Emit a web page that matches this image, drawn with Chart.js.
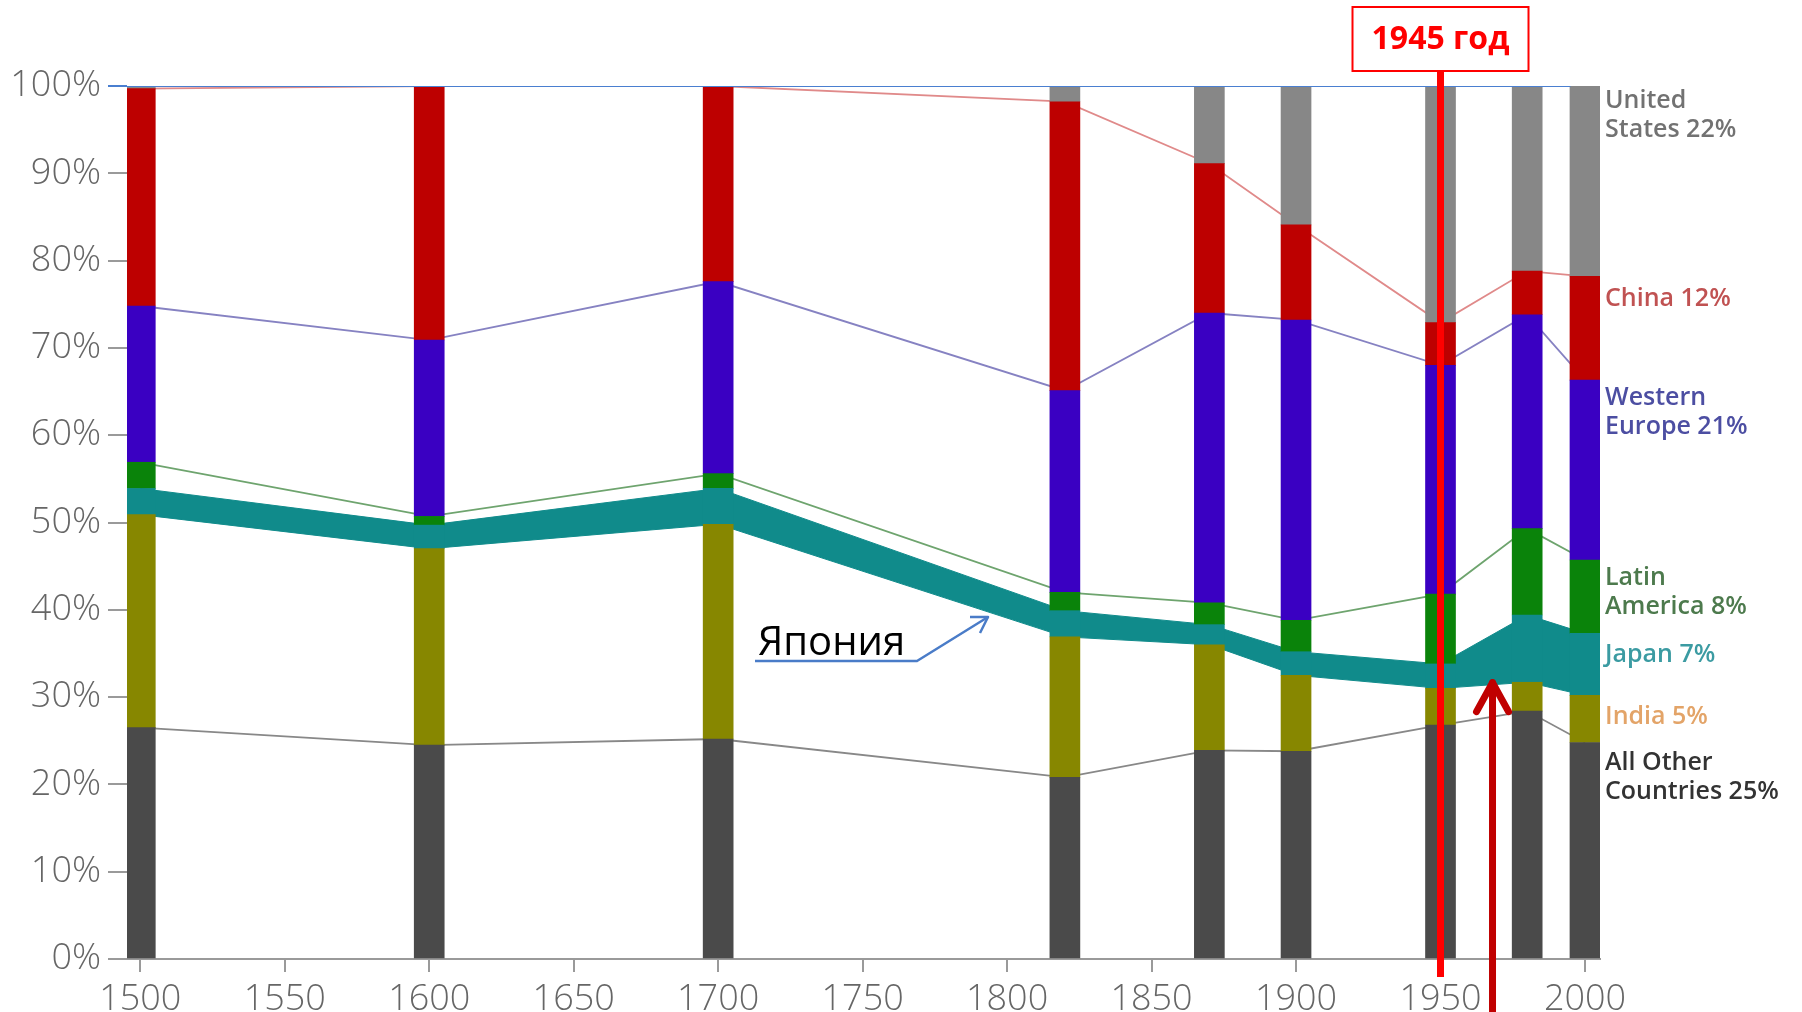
<!DOCTYPE html>
<html>
<head>
<meta charset="utf-8">
<script src="https://cdn.jsdelivr.net/npm/chart.js@4.4.1/dist/chart.umd.min.js"></script>
<style>
  html, body { margin: 0; padding: 0; background: #fff; }
  #wrap { width: 1802px; height: 1012px; }
</style>
</head>
<body>
<div id="wrap"><canvas id="gdpChart" width="1802" height="1012"></canvas></div>
<script>
// years of the bars
const years = [1500, 1600, 1700, 1820, 1870, 1900, 1950, 1980, 2000];

// share of world GDP, % (bottom -> top of each bar)
const otherShare      = [26.5, 24.5, 25.2, 20.8, 23.9, 23.8, 26.8, 28.4, 24.8];
const indiaShare      = [24.4, 22.5, 24.6, 16.1, 12.1,  8.7,  4.2,  3.3,  5.4];
const japanShare      = [ 3.0,  2.7,  4.1,  3.0,  2.3,  2.7,  2.8,  7.7,  7.1];
const latamShare      = [ 3.0,  1.0,  1.7,  2.1,  2.5,  3.6,  8.0,  9.9,  8.4];
const westEuropeShare = [17.9, 20.2, 22.0, 23.1, 33.2, 34.4, 26.2, 24.5, 20.6];
const chinaShare      = [24.9, 29.1, 22.4, 33.1, 17.1, 10.9,  4.9,  5.0, 11.9];
const usShare         = [ 0.3,  0.0,  0.0,  1.8,  8.9, 15.9, 27.1, 21.2, 21.8];

// axis ticks
const xTickLabels = [1500, 1550, 1600, 1650, 1700, 1750, 1800, 1850, 1900, 1950, 2000];
const yTickLabels = [0, 10, 20, 30, 40, 50, 60, 70, 80, 90, 100];

// labels at the right of the last bar (top -> bottom)
const regionLabels = [
    ["United", "States 22%"],
    ["China 12%"],
    ["Western", "Europe 21%"],
    ["Latin", "America 8%"],
    ["Japan 7%"],
    ["India 5%"],
    ["All Other", "Countries 25%"],
];

// annotations
const markerYear = 1950;       // red line "1945 год"
const arrowYear = 1968;        // red arrow
const arrowTipValue = 32;      // % where the red arrow points
const topLineYears = [1495.4, 1995];

const shares = [otherShare, indiaShare, japanShare, latamShare, westEuropeShare, chinaShare, usShare];
const barColors = ["#4a4a4a", "#878700", "#108b8b", "#0a830a", "#3a00c2", "#bd0000", "#878787"];

// cumulative tops of every segment
const tops = [];
shares.forEach((arr, k) => {
    tops.push(arr.map((v, i) => (k ? tops[k - 1][i] : 0) + v));
});

const barSets = shares.map((arr, k) => ({
    type: "bar",
    data: years.map((yr, i) => ({ x: yr, y: [k ? tops[k - 1][i] : 0, tops[k][i]] })),
    backgroundColor: barColors[k],
    borderWidth: 0,
    barThickness: 30,
    grouped: false,
    order: 0,
}));

function boundLine(k, color, extra) {
    return Object.assign({
        type: "line",
        data: years.map((yr, i) => ({ x: yr, y: tops[k][i] })),
        borderColor: color,
        borderWidth: 1.8,
        pointRadius: 0,
        tension: 0,
        fill: false,
        order: 1,
    }, extra || {});
}

const lineSets = [
    // 100% line, drawn above the bars
    {
        type: "line",
        data: topLineYears.map(yr => ({ x: yr, y: 100 })),
        borderColor: "#4a7fd0",
        borderWidth: 2,
        pointRadius: 0,
        fill: false,
        order: -1,
    },
    boundLine(5, "#e08a8a"),
    boundLine(4, "#8682c2"),
    boundLine(3, "#6ea46e"),
    boundLine(1, "#108b8b", { borderWidth: 1 }),
    boundLine(2, "#108b8b", { borderWidth: 1, fill: "-1", backgroundColor: "#108b8b" }),
    boundLine(0, "#888888"),
];

const labelColors = ["#727272", "#c05252", "#4c4ea2", "#4d7a4d", "#3b9ba2", "#e3a468", "#333333"];
const labelTops = [101, 299, 398, 578, 655, 717, 763];

const overlayPlugin = {
    id: "overlay",
    afterDraw(chart) {
        const { ctx, scales: { x, y } } = chart;
        ctx.save();

        // region labels
        ctx.font = '600 25px "Open Sans", sans-serif';
        ctx.textBaseline = "middle";
        ctx.textAlign = "left";
        regionLabels.forEach((lines, i) => {
            ctx.fillStyle = labelColors[i];
            lines.forEach((t, j) => ctx.fillText(t, 1605, labelTops[i] + j * 29));
        });

        // "1945 год" marker
        const mx = x.getPixelForValue(markerYear);
        ctx.strokeStyle = "#ff0000";
        ctx.lineWidth = 7;
        ctx.beginPath();
        ctx.moveTo(mx, 71);
        ctx.lineTo(mx, 977);
        ctx.stroke();
        ctx.fillStyle = "#fff";
        ctx.fillRect(mx - 88, 7, 176, 64);
        ctx.lineWidth = 2;
        ctx.strokeRect(mx - 88, 7, 176, 64);
        ctx.fillStyle = "#ff0000";
        ctx.font = 'bold 32px "Open Sans", sans-serif';
        ctx.textAlign = "center";
        ctx.fillText("1945 год", mx, 40);

        // red arrow pointing up at Japan
        const ax = x.getPixelForValue(arrowYear);
        const ay = y.getPixelForValue(arrowTipValue);
        ctx.strokeStyle = "#c00000";
        ctx.lineWidth = 7;
        ctx.lineCap = "round";
        ctx.lineJoin = "round";
        ctx.beginPath();
        ctx.moveTo(ax, 1015);
        ctx.lineTo(ax, ay + 3);
        ctx.stroke();
        ctx.beginPath();
        ctx.moveTo(ax - 16, ay + 32);
        ctx.lineTo(ax, ay + 3);
        ctx.lineTo(ax + 16, ay + 32);
        ctx.stroke();

        // "Япония" with blue arrow
        ctx.fillStyle = "#000";
        ctx.font = '40px "Open Sans", sans-serif';
        ctx.textAlign = "left";
        ctx.textBaseline = "alphabetic";
        ctx.fillText("Япония", 758, 655);
        ctx.strokeStyle = "#4a7cc8";
        ctx.lineWidth = 2.5;
        ctx.lineCap = "butt";
        ctx.beginPath();
        ctx.moveTo(755, 661);
        ctx.lineTo(917, 661);
        ctx.lineTo(988, 617);
        ctx.stroke();
        ctx.beginPath();
        ctx.moveTo(970, 617);
        ctx.lineTo(988, 617);
        ctx.lineTo(980, 633);
        ctx.stroke();

        ctx.restore();
    },
};

Chart.defaults.font.family = '"Open Sans", sans-serif';

new Chart(document.getElementById("gdpChart"), {
    type: "bar",
    data: { datasets: [...lineSets, ...barSets] },
    options: {
        responsive: false,
        animation: false,
        devicePixelRatio: 1,
        layout: { padding: { top: 86, right: 202, left: 0, bottom: 0 } },
        plugins: { legend: { display: false }, tooltip: { enabled: false } },
        scales: {
            x: {
                type: "linear",
                offset: false,
                min: 1495.4,
                max: 2005.2,
                afterBuildTicks: (s) => { s.ticks = xTickLabels.map(v => ({ value: v })); },
                afterFit: (s) => { s.height = 53; },
                grid: { offset: false, drawOnChartArea: false, tickLength: 13, color: "#9a9a9a", lineWidth: 2 },
                border: { color: "#9a9a9a", width: 2 },
                ticks: {
                    padding: 6,
                    color: "#666666",
                    font: { size: 36, weight: 300 },
                    maxRotation: 0,
                    autoSkip: false,
                    callback: (v) => String(v),
                },
            },
            y: {
                min: 0,
                max: 100,
                afterBuildTicks: (s) => { s.ticks = yTickLabels.map(v => ({ value: v })); },
                afterFit: (s) => { s.width = 127; },
                grid: {
                    drawOnChartArea: false,
                    tickLength: 19,
                    lineWidth: 2,
                    color: (c) => (c.tick && c.tick.value === 100 ? "#4a7fd0" : "#9a9a9a"),
                },
                border: { display: false },
                ticks: {
                    padding: 7,
                    color: "#666666",
                    font: { size: 36, weight: 300 },
                    callback: (v) => v + "%",
                },
            },
        },
    },
    plugins: [overlayPlugin],
});
</script>
</body>
</html>
